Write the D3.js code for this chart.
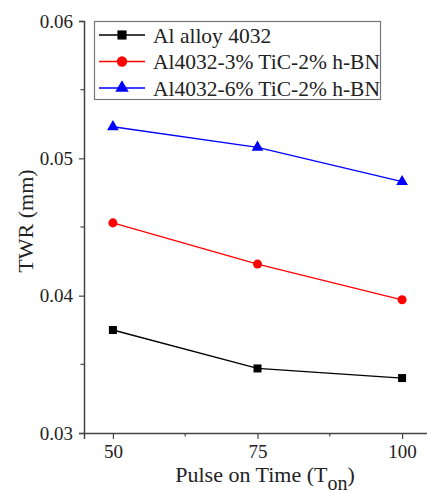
<!DOCTYPE html>
<html>
<head>
<meta charset="utf-8">
<script src="https://cdn.jsdelivr.net/npm/d3@7"></script>
<style>
  body { margin: 0; background: #fff; }
  text { font-family: "Liberation Serif", "Times New Roman", serif; fill: #222; }
</style>
</head>
<body>
<div id="chart"></div>
<script>
// data
var pulseOn = [50, 75, 100];
var seriesNames = ["Al alloy 4032", "Al4032-3% TiC-2% h-BN", "Al4032-6% TiC-2% h-BN"];
var alloyTwr = [0.0375, 0.0347, 0.0340];
var tic3Twr = [0.0453, 0.0423, 0.0397];
var tic6Twr = [0.0523, 0.0508, 0.0483];
var xTicks = [50, 75, 100];
var xMinor = [62.5, 87.5];
var yTicks = [0.03, 0.04, 0.05, 0.06];
var yMinor = [0.035, 0.045, 0.055];

var svgWidth = 427;
var svgHeight = 493;

var svg = d3.select("#chart")
  .append("svg")
  .attr("width", svgWidth)
  .attr("height", svgHeight);

var x = d3.scaleLinear().domain([45, 105]).range([84, 431]);
var y = d3.scaleLinear().domain([0.03, 0.06]).range([433, 21]);

var axisColor = "#444";

// x axis
var xAxis = svg.append("g")
  .attr("transform", "translate(0,433)")
  .call(d3.axisBottom(x).tickValues(xTicks).tickSize(6).tickPadding(6).tickFormat(d3.format("d")));
xAxis.append("g").selectAll("line")
  .data(xMinor)
  .enter()
  .append("line")
  .attr("x1", d => x(d)).attr("x2", d => x(d))
  .attr("y1", 0).attr("y2", 3.5);

// y axis
var yAxis = svg.append("g")
  .attr("transform", "translate(84,0)")
  .call(d3.axisLeft(y).tickValues(yTicks).tickSize(5).tickPadding(6).tickFormat(d3.format(".2f")));
yAxis.append("g").selectAll("line")
  .data(yMinor)
  .enter()
  .append("line")
  .attr("y1", d => y(d)).attr("y2", d => y(d))
  .attr("x1", 0).attr("x2", -3.5);

[xAxis, yAxis].forEach(function(ax) {
  ax.select(".domain").attr("stroke", axisColor).attr("stroke-width", 1.5);
  ax.selectAll("line").attr("stroke", axisColor).attr("stroke-width", 1.2);
  ax.selectAll("text")
    .style("font-family", "'Liberation Serif', 'Times New Roman', serif")
    .style("font-size", "19px")
    .attr("fill", "#222");
});

// series
var series = [
  { name: seriesNames[0], values: alloyTwr, color: "#000000", shape: d3.symbolSquare, size: 64 },
  { name: seriesNames[1], values: tic3Twr, color: "#ff0000", shape: d3.symbolCircle, size: 64 },
  { name: seriesNames[2], values: tic6Twr, color: "#0000ff", shape: d3.symbolTriangle, size: 60 }
];

var line = d3.line()
  .x((d, i) => x(pulseOn[i]))
  .y(d => y(d));

series.forEach(function(s) {
  svg.append("path")
    .datum(s.values)
    .attr("fill", "none")
    .attr("stroke", s.color)
    .attr("stroke-width", 1.3)
    .attr("d", line);

  svg.selectAll(null)
    .data(s.values)
    .enter()
    .append("path")
    .attr("transform", (d, i) => `translate(${x(pulseOn[i])},${y(d)})`)
    .attr("d", d3.symbol().type(s.shape).size(s.size))
    .attr("fill", s.color);
});

// legend
var legend = svg.append("g");
legend.append("rect")
  .attr("x", 94.5).attr("y", 21.5)
  .attr("width", 286).attr("height", 78)
  .attr("fill", "#fff")
  .attr("stroke", "#777")
  .attr("stroke-width", 1.2);

series.forEach(function(s, i) {
  var ly = 35 + i * 26.5;
  legend.append("line")
    .attr("x1", 99).attr("x2", 145)
    .attr("y1", ly).attr("y2", ly)
    .attr("stroke", s.color)
    .attr("stroke-width", 1.3);
  legend.append("path")
    .attr("transform", `translate(122,${ly})`)
    .attr("d", d3.symbol().type(s.shape).size(s.size * 1.3))
    .attr("fill", s.color);
  legend.append("text")
    .attr("x", 153)
    .attr("y", ly + 7.5)
    .style("font-size", "21.5px")
    .text(s.name);
});

// axis titles
svg.append("text")
  .attr("transform", "translate(33,221) rotate(-90)")
  .attr("text-anchor", "middle")
  .style("font-size", "22px")
  .text("TWR (mm)");

var xTitle = svg.append("text")
  .attr("x", 265)
  .attr("y", 482)
  .attr("text-anchor", "middle")
  .style("font-size", "22px");
xTitle.append("tspan").text("Pulse on Time (T");
xTitle.append("tspan").attr("dy", 8).style("font-size", "20px").text("on");
xTitle.append("tspan").attr("dy", -8).text(")");
</script>
</body>
</html>
